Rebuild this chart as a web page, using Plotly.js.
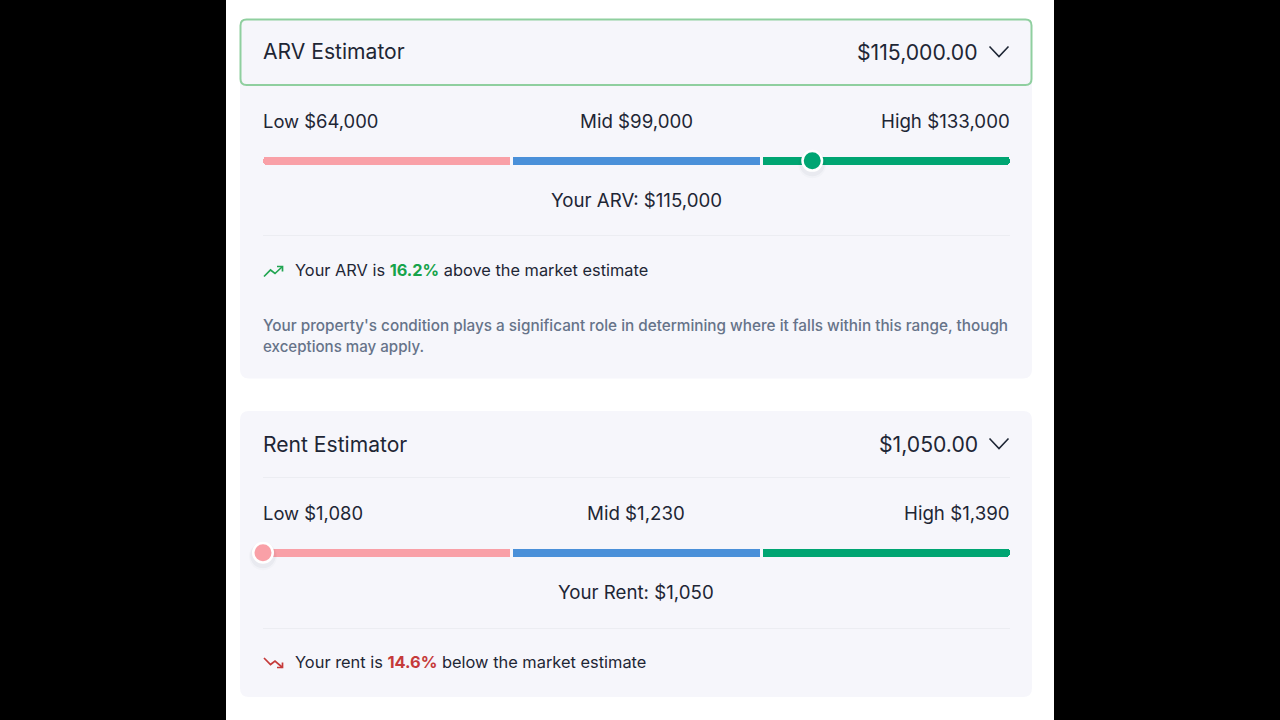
<!DOCTYPE html>
<html>
<head>
<meta charset="utf-8">
<script src="https://cdn.plot.ly/plotly-3.0.1.min.js"></script>
<style>html,body{margin:0;padding:0;background:#000;overflow:hidden}#chart{width:1280px;height:720px}</style>
</head>
<body>
<div id="chart"></div>
<script>
// Estimator readings
const arvBands = [64000, 99000, 133000];
const rentBands = [1080, 1230, 1390];
const arvValue = 115000;
const rentValue = 1050;
// Track segments, in percent of the track
const segNames = ['Low', 'Mid', 'High'];
const segStart = [0, 33.47, 66.93];
const segEnd = [33.07, 66.53, 100];
const segColors = ['#f9a0a7', '#4a90d9', '#00a572'];
// Texts
const arvTitle = 'ARV Estimator';
const rentTitle = 'Rent Estimator';
const arvTotal = '$115,000.00';
const rentTotal = '$1,050.00';
const arvPct = '16.2%';
const rentPct = '14.6%';
const noteLines = ["Your property's condition plays a significant role in determining where it falls within this range, though", 'exceptions may apply.'];

const W = 1280, H = 720;
const FONT = 'Inter, "Noto Sans", sans-serif';
const INK = '#1e2635', CARD = '#f6f6fb', RULE = '#ecedf2', MUTED = '#667389';
const px = x => x / W, py = y => 1 - y / H;
const money = v => '$' + v.toLocaleString('en-US');

// Thumb position: piecewise linear across low / mid / high
function trackPct(v, b) {
  if (v <= b[0]) return 0;
  if (v >= b[2]) return 100;
  return v <= b[1] ? 50 * (v - b[0]) / (b[1] - b[0]) : 50 + 50 * (v - b[1]) / (b[2] - b[1]);
}
function thumbColor(v, b) {
  const p = trackPct(v, b);
  return p < segStart[1] ? segColors[0] : p < segStart[2] ? segColors[1] : segColors[2];
}

function sliderTraces(value, bands, xa, ya) {
  const out = [];
  const bar = (a, b, color, radius) => ({
    type: 'bar', orientation: 'h', xaxis: xa, yaxis: ya, y: [0], base: [a], x: [b - a], width: [1],
    marker: {color: color, line: {width: 0}, cornerradius: radius}, hoverinfo: 'skip', showlegend: false
  });
  // rounded outer ends
  out.push(bar(segStart[0], segEnd[0] / 2, segColors[0], 4));
  out.push(bar(segEnd[2] - 15, segEnd[2], segColors[2], 4));
  // flat segments
  out.push(bar(segStart[0] + 2, segEnd[0], segColors[0], 0));
  out.push(bar(segStart[1], segEnd[1], segColors[1], 0));
  out.push(bar(segStart[2], segEnd[2] - 2, segColors[2], 0));
  const pos = trackPct(value, bands);
  const dot = (y, size, color, lw, lc) => ({
    type: 'scatter', mode: 'markers', xaxis: xa, yaxis: ya, x: [pos], y: [y], cliponaxis: false,
    marker: {size: size, color: color, line: {width: lw, color: lc}}, hoverinfo: 'skip', showlegend: false
  });
  out.push(dot(-0.42, 28, 'rgba(20,30,50,0.02)', 0, 'rgba(0,0,0,0)'));
  out.push(dot(-0.32, 25.5, 'rgba(20,30,50,0.035)', 0, 'rgba(0,0,0,0)'));
  out.push(dot(0, 19.5, thumbColor(value, bands), 2.5, '#ffffff'));
  return out;
}

const data = [
  ...sliderTraces(arvValue, arvBands, 'x', 'y'),
  ...sliderTraces(rentValue, rentBands, 'x2', 'y2')
];

function roundedPath(x0, y0, x1, y1, r) {
  const P = (x, y) => px(x) + ' ' + py(y);
  return 'M ' + P(x0 + r, y0) + ' L ' + P(x1 - r, y0) + ' Q ' + P(x1, y0) + ' ' + P(x1, y0 + r) +
    ' L ' + P(x1, y1 - r) + ' Q ' + P(x1, y1) + ' ' + P(x1 - r, y1) +
    ' L ' + P(x0 + r, y1) + ' Q ' + P(x0, y1) + ' ' + P(x0, y1 - r) +
    ' L ' + P(x0, y0 + r) + ' Q ' + P(x0, y0) + ' ' + P(x0 + r, y0) + ' Z';
}
const polyPath = pts => 'M ' + pts.map(p => px(p[0]) + ' ' + py(p[1])).join(' L ');
const pshape = (path, fill, lc, lw) => ({type: 'path', xref: 'paper', yref: 'paper', layer: 'below', path: path,
  fillcolor: fill, line: {color: lc, width: lw}});
const rule = y => ({type: 'line', xref: 'paper', yref: 'paper', layer: 'below', x0: px(263), x1: px(1010), y0: py(y), y1: py(y),
  line: {color: RULE, width: 1}});
const chevron = y => pshape(polyPath([[989.5, y - 5.5], [999, y + 4.5], [1008.5, y - 5.5]]), 'rgba(0,0,0,0)', INK, 1.6);

const shapes = [
  {type: 'rect', xref: 'paper', yref: 'paper', layer: 'below', x0: px(226), x1: px(1054), y0: 0, y1: 1, fillcolor: '#ffffff', line: {width: 0}},
  pshape(roundedPath(240, 30, 1032, 378.5, 9), CARD, 'rgba(0,0,0,0)', 0),
  pshape(roundedPath(240.5, 19.5, 1031.5, 85, 6), CARD, '#8fcf9f', 2),
  pshape(roundedPath(240, 411, 1032, 697, 9), CARD, 'rgba(0,0,0,0)', 0),
  rule(235.5), rule(477.5), rule(628.5),
  chevron(52), chevron(444),
  pshape(polyPath([[264, 276.5], [270.5, 270], [275, 273.5], [282.5, 266.5]]), 'rgba(0,0,0,0)', '#22a552', 1.7),
  pshape(polyPath([[277, 266.5], [282.5, 266.5], [282.5, 271.5]]), 'rgba(0,0,0,0)', '#22a552', 1.7),
  pshape(polyPath([[264, 658], [270.5, 664.5], [275, 661], [282.5, 667.5]]), 'rgba(0,0,0,0)', '#c53a3a', 1.7),
  pshape(polyPath([[282.5, 662.5], [282.5, 667.5], [277, 667.5]]), 'rgba(0,0,0,0)', '#c53a3a', 1.7)
];

const txt = (x, y, text, size, color, anchor, weight) => ({
  xref: 'paper', yref: 'paper', x: px(x), y: py(y), text: text, showarrow: false,
  xanchor: anchor || 'left', yanchor: 'middle', borderpad: 0, borderwidth: 0,
  font: {family: FONT, size: size, color: color, weight: weight || 400}
});
const labelRow = (y, bands) => [
  txt(262.5, y, segNames[0] + ' ' + money(bands[0]), 18.4, INK, 'left'),
  txt(636, y, segNames[1] + ' ' + money(bands[1]), 18.7, INK, 'center'),
  txt(1010, y, segNames[2] + ' ' + money(bands[2]), 18.7, INK, 'right')
];
const annotations = [
  txt(262.5, 52, arvTitle, 21.1, INK),
  txt(977.5, 52, arvTotal, 21.2, INK, 'right'),
  ...labelRow(121, arvBands),
  txt(636, 200, 'Your ARV: ' + money(arvValue), 18.7, INK, 'center'),
  txt(295, 270, 'Your ARV is <b><span style="color:#16a34a">' + arvPct + '</span></b> above the market estimate', 16.35, INK),
  txt(262.5, 325.5, noteLines[0], 15.3, MUTED, 'left', 500),
  txt(262.5, 346, noteLines[1], 15.1, MUTED, 'left', 500),
  txt(262.5, 444, rentTitle, 21.1, INK),
  txt(977.5, 444, rentTotal, 21.2, INK, 'right'),
  ...labelRow(513, rentBands),
  txt(636, 592, 'Your Rent: ' + money(rentValue), 18.7, INK, 'center'),
  txt(295, 662, 'Your rent is <b><span style="color:#c53a3a">' + rentPct + '</span></b> below the market estimate', 16.4, INK)
];

const hidden = (extra) => Object.assign({visible: false, fixedrange: true, showgrid: false, zeroline: false}, extra);
const layout = {
  width: W, height: H, margin: {l: 0, r: 0, t: 0, b: 0, pad: 0},
  paper_bgcolor: '#000000', plot_bgcolor: 'rgba(0,0,0,0)',
  barmode: 'overlay', bargap: 0, showlegend: false,
  xaxis: hidden({domain: [px(263), px(1010)], range: [0, 100], anchor: 'y'}),
  yaxis: hidden({domain: [py(165), py(156.7)], range: [-0.5, 0.5], anchor: 'x'}),
  xaxis2: hidden({domain: [px(263), px(1010)], range: [0, 100], anchor: 'y2'}),
  yaxis2: hidden({domain: [py(557), py(548.5)], range: [-0.5, 0.5], anchor: 'x2'}),
  shapes: shapes, annotations: annotations
};
Plotly.newPlot('chart', data, layout, {displayModeBar: false, staticPlot: true});
</script>
</body>
</html>
